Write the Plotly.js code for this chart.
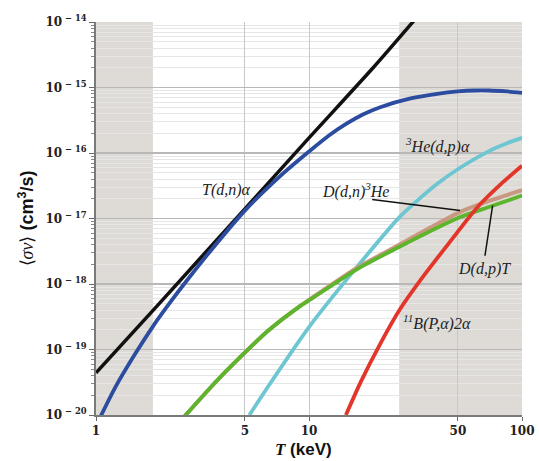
<!DOCTYPE html>
<html>
<head>
<meta charset="utf-8">
<script src="https://cdn.plot.ly/plotly-3.0.1.min.js"></script>
<style>html,body{margin:0;padding:0;background:#fff;}#chart{width:539px;height:461px;}</style>
</head>
<body>
<div id="chart"></div>
<script>
// Temperature (keV) and reactivity <sigma v> (cm^3/s)
var tLine = [1, 2, 5, 10, 20, 31.5];
var vLine = [4.4e-20, 5.2e-19, 1.4e-17, 1.7e-16, 2.0e-15, 1.1e-14];

var tDT = [1.044, 1.228, 1.525, 1.858, 2.265, 2.665, 3.5, 5, 7.3, 10.1, 12.5, 15, 18, 21.6, 30, 40, 50, 60, 70, 85, 100];
var vDT = [9.1e-21, 2.6e-20, 8.5e-20, 2.3e-19, 5.6e-19, 1.12e-18, 3.4e-18, 1.32e-17, 4.4e-17, 1.08e-16, 1.88e-16, 2.8e-16, 3.9e-16, 5.0e-16, 6.8e-16, 8.0e-16, 8.7e-16, 9.0e-16, 9.0e-16, 8.7e-16, 8.3e-16];

var tDDn = [2.57, 3.68, 5.09, 6.44, 9.07, 10.1, 16.7, 26.6, 51.3, 70, 100];
var vDDn = [9.1e-21, 3.3e-20, 9.5e-20, 1.95e-19, 4.6e-19, 5.85e-19, 1.74e-18, 4.0e-18, 1.26e-17, 1.86e-17, 2.7e-17];

var tDDp = [2.57, 3.68, 5.09, 6.44, 9.07, 10.1, 16.7, 26.6, 51.3, 70, 100];
var vDDp = [9.1e-21, 3.3e-20, 9.5e-20, 1.95e-19, 4.6e-19, 5.75e-19, 1.66e-18, 3.7e-18, 1.05e-17, 1.5e-17, 2.24e-17];

var tHe3 = [5.25, 6.44, 10.1, 16.7, 26.6, 30.9, 40, 51, 70, 85, 100];
var vHe3 = [1.0e-20, 2.75e-20, 2.3e-19, 1.78e-18, 1.05e-17, 1.66e-17, 3.4e-17, 5.9e-17, 1.07e-16, 1.41e-16, 1.7e-16];

var tPB = [14.9, 17.5, 21.6, 26.6, 35, 44.3, 61.3, 80, 100];
var vPB = [1.0e-20, 3.2e-20, 1.22e-19, 4.0e-19, 1.41e-18, 3.8e-18, 1.45e-17, 3.4e-17, 6.4e-17];

var yTickVals = [1e-20, 1e-19, 1e-18, 1e-17, 1e-16, 1e-15, 1e-14];
var yTickText = ['10<sup> − 20</sup>', '10<sup> − 19</sup>', '10<sup> − 18</sup>', '10<sup> − 17</sup>', '10<sup> − 16</sup>', '10<sup> − 15</sup>', '10<sup> − 14</sup>'];
var xTickVals = [1, 5, 10, 50, 100];
var xTickText = ['1', '5', '10', '50', '100'];

var shadeLow = [1, 1.85];
var shadeHigh = [26.5, 100];

var labels = ['<i>T(d,n)α</i>', '<i><sup>3</sup>He(d,p)α</i>', '<i>D(d,n)<sup>3</sup>He</i>', '<i>D(d,p)T</i>', '<i><sup>11</sup>B(P,α)2α</i>'];
var labelT = [4.08, 40.3, 16.6, 66.4, 39.9];
var labelV = [2.7e-17, 1.32e-16, 2.7e-17, 1.7e-18, 2.6e-19];

var minorVals = [];
for (var e = -20; e < -14; e++) {
  for (var m = 2; m <= 9; m++) minorVals.push(m * Math.pow(10, e));
}

function tr(x, y, color, width) {
  return {x: x, y: y, type: 'scatter', mode: 'lines', line: {color: color, width: width, shape: 'spline', smoothing: 0.6}, hoverinfo: 'skip', showlegend: false};
}

var data = [
  tr(tLine, vLine, '#111111', 3.5),
  tr(tDT, vDT, '#2b4c9f', 3.8),
  tr(tHe3, vHe3, '#6ec6d3', 3.8),
  tr(tDDn, vDDn, '#c99880', 4),
  tr(tDDp, vDDp, '#5db52c', 3.8),
  tr(tPB, vPB, '#e3362a', 3.8)
];

var serif = 'Liberation Serif, Times New Roman, serif';
var annotations = labels.map(function (t, i) {
  return {x: Math.log10(labelT[i]), y: Math.log10(labelV[i]), xref: 'x', yref: 'y', text: t, showarrow: false,
    font: {family: serif, size: 16, color: '#222'}, xanchor: 'center', yanchor: 'middle'};
});
annotations.push({x: 0.486, y: -0.088, xref: 'paper', yref: 'paper', showarrow: false, xanchor: 'center', yanchor: 'middle',
  text: '<span style="font-family:Liberation Serif"><b><i>T</i></b></span><b> (keV)</b>',
  font: {family: 'Liberation Sans, Arial, sans-serif', size: 17, color: '#111'}});

var shapes = [
  {type: 'rect', xref: 'x', yref: 'paper', x0: shadeLow[0], x1: shadeLow[1], y0: 0, y1: 1, fillcolor: '#dedbd6', line: {width: 0}, layer: 'below'},
  {type: 'rect', xref: 'x', yref: 'paper', x0: shadeHigh[0], x1: shadeHigh[1], y0: 0, y1: 1, fillcolor: '#dedbd6', line: {width: 0}, layer: 'below'},
  {type: 'line', xref: 'x', yref: 'y', x0: 19.8, y0: 1.95e-17, x1: 51.2, y1: 1.32e-17, line: {color: '#111', width: 1.5}},
  {type: 'line', xref: 'x', yref: 'y', x0: 72.8, y0: 1.58e-17, x1: 67, y1: 2.7e-18, line: {color: '#111', width: 1.5}}
];

var tickFont = {family: 'DejaVu Serif, serif', size: 12, color: '#222', weight: 'bold'};

var layout = {
  width: 539, height: 461,
  margin: {l: 96, r: 17, t: 22, b: 46},
  paper_bgcolor: '#ffffff', plot_bgcolor: 'rgba(0,0,0,0)',
  showlegend: false,
  xaxis: {
    type: 'log', range: [0, 2],
    tickmode: 'array', tickvals: xTickVals, ticktext: xTickText,
    tickfont: tickFont, ticks: 'outside', ticklen: 4, tickcolor: '#666',
    showgrid: true, gridcolor: '#c8c8c8', gridwidth: 1,
    showline: true, linecolor: '#7a7a7a', linewidth: 2,
    zeroline: false
  },
  yaxis: {
    type: 'log', range: [-20, -14],
    tickmode: 'array', tickvals: yTickVals, ticktext: yTickText,
    tickfont: tickFont, ticks: 'outside', ticklen: 5, tickcolor: '#666',
    showgrid: true, gridcolor: '#b8b8b8', gridwidth: 1.2,
    minor: {tickmode: 'array', tickvals: minorVals, ticks: 'outside', ticklen: 3, tickcolor: '#888', showgrid: true, gridcolor: '#e6e6e6', gridwidth: 1},
    showline: true, linecolor: '#7a7a7a', linewidth: 2,
    zeroline: false,
    title: {text: '<span style="font-family:Liberation Serif">⟨<i>σv</i>⟩</span><b> (cm<sup>3</sup>/s)</b>', font: {family: 'Liberation Sans, Arial, sans-serif', size: 18, color: '#111'}, standoff: 7}
  },
  shapes: shapes,
  annotations: annotations
};

Plotly.newPlot('chart', data, layout, {staticPlot: true, displayModeBar: false});
</script>
</body>
</html>
